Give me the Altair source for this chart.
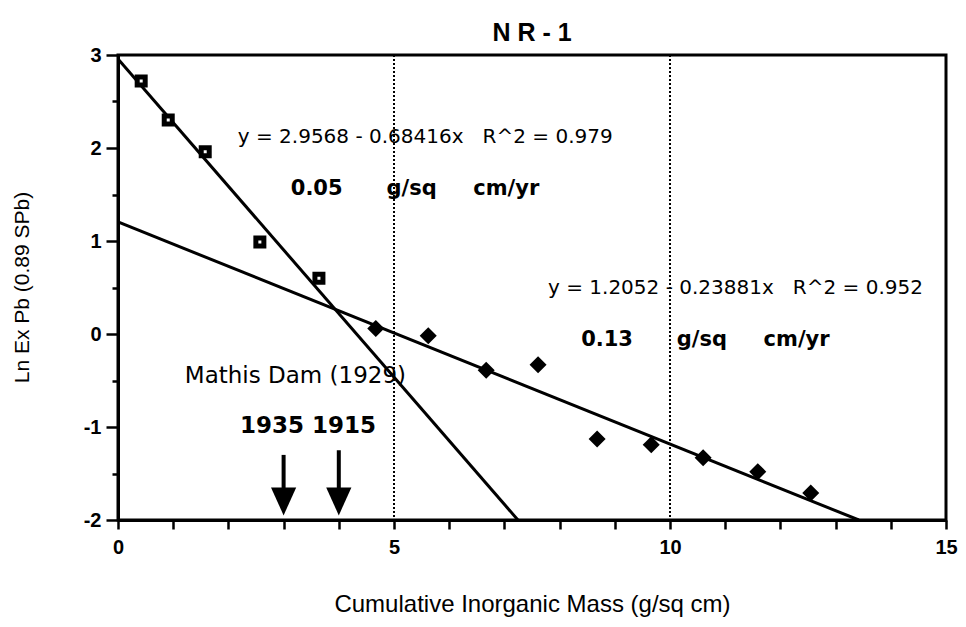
import altair as alt
import pandas as pd

# ---- data ----
sq_x = [0.42, 0.91, 1.58, 2.57, 3.64]
sq_y = [2.72, 2.30, 1.96, 0.99, 0.60]

dm_x = [4.67, 5.62, 6.67, 7.61, 8.68, 9.66, 10.60, 11.59, 12.55]
dm_y = [0.06, -0.02, -0.39, -0.33, -1.13, -1.19, -1.33, -1.48, -1.71]

# regression lines (end points from printed fits, clipped at y=-2)
fit1_x = [0.0, 7.245]
fit1_y = [2.9568, -2.0]
fit2_x = [0.0, 13.42]
fit2_y = [1.2052, -2.0]

grid_x = [5, 10]

arrow_x = [3, 4]
arrow_top = [-1.30, -1.25]
arrow_head = [-1.80, -1.80]

NB = "\u00a0"
eq_texts = ["y = 2.9568 - 0.68416x" + NB * 3 + "R^2 = 0.979",
            "y = 1.2052 - 0.23881x" + NB * 3 + "R^2 = 0.952"]
eq_x = [2.17, 7.79]
eq_y = [2.12, 0.49]

dam_text = ["Mathis Dam (1929)"]
dam_x = [1.21]
dam_y = [-0.45]

bold_texts = ["0.05" + NB * 6 + "g/sq" + NB * 5 + "cm/yr",
              "0.13" + NB * 6 + "g/sq" + NB * 5 + "cm/yr"]
bold_x = [3.13, 8.39]
bold_y = [1.56, -0.06]

year_text = ["1935 1915"]
year_x = [2.21]
year_y = [-0.99]

FONT = "Liberation Sans"
AFONT = "DejaVu Sans"

xs = alt.Scale(domain=[0, 15], nice=False, zero=False)
ys = alt.Scale(domain=[-2, 3], nice=False, zero=False)

x_axis = alt.Axis(values=list(range(0, 16)),
                  labelExpr="datum.value % 5 === 0 ? '' + datum.value : ''",
                  title="Cumulative Inorganic Mass (g/sq cm)",
                  grid=False, tickSize=9, labelPadding=8, labelFlush=False,
                  titleY=84, titleBaseline="middle", titleFontSize=24)
y_axis = alt.Axis(values=[-2, -1.5, -1, -0.5, 0, 0.5, 1, 1.5, 2, 2.5, 3],
                  labelExpr="datum.value % 1 === 0 ? '' + datum.value : ''",
                  title="Ln Ex Pb (0.89 SPb)",
                  grid=False, labelFlush=False,
                  tickSize={"condition": {"test": "datum.value % 1 === 0", "value": 12}, "value": 6},
                  labelPadding=5,
                  titleX=-86, titleY=232, titleFontSize=21)

lines_df = pd.DataFrame({
    "x": fit1_x + fit2_x,
    "y": fit1_y + fit2_y,
    "fit": ["a", "a", "b", "b"],
})
sq_df = pd.DataFrame({"x": sq_x, "y": sq_y})
dm_df = pd.DataFrame({"x": dm_x, "y": dm_y})
grid_df = pd.DataFrame({"x": grid_x})
arr_df = pd.DataFrame({"x": arrow_x, "top": arrow_top, "head": arrow_head})
eq_df = pd.DataFrame({"x": eq_x, "y": eq_y, "t": eq_texts})
dam_df = pd.DataFrame({"x": dam_x, "y": dam_y, "t": dam_text})
bold_df = pd.DataFrame({"x": bold_x, "y": bold_y, "t": bold_texts})
year_df = pd.DataFrame({"x": year_x, "y": year_y, "t": year_text})

grid = alt.Chart(grid_df).mark_rule(color="black", strokeWidth=2, strokeDash=[2, 2]).encode(
    x=alt.X("x:Q", scale=xs, axis=x_axis))

lines = alt.Chart(lines_df).mark_line(color="black", strokeWidth=3, clip=True).encode(
    x=alt.X("x:Q", scale=xs, axis=x_axis),
    y=alt.Y("y:Q", scale=ys, axis=y_axis),
    detail="fit:N")

squares = alt.Chart(sq_df).mark_point(shape="square", filled=True, fill="white",
                                      stroke="black", strokeWidth=5, size=64, opacity=1).encode(
    x=alt.X("x:Q", scale=xs), y=alt.Y("y:Q", scale=ys))

diamonds = alt.Chart(dm_df).mark_point(shape="diamond", filled=True, color="black",
                                       size=290, opacity=1).encode(
    x=alt.X("x:Q", scale=xs), y=alt.Y("y:Q", scale=ys))

shafts = alt.Chart(arr_df).mark_rule(color="black", strokeWidth=4).encode(
    x=alt.X("x:Q", scale=xs), y=alt.Y("top:Q", scale=ys), y2="head:Q")

heads = alt.Chart(arr_df).mark_point(shape="M-0.9,-1L0.9,-1L0,1Z", filled=True,
                                     color="black", size=784, opacity=1).encode(
    x=alt.X("x:Q", scale=xs), y=alt.Y("head:Q", scale=ys))

eqs = alt.Chart(eq_df).mark_text(align="left", baseline="middle", font=AFONT,
                                 fontSize=20, color="black").encode(
    x=alt.X("x:Q", scale=xs), y=alt.Y("y:Q", scale=ys), text="t:N")

dam = alt.Chart(dam_df).mark_text(align="left", baseline="middle", font=AFONT,
                                  fontSize=23, color="black").encode(
    x=alt.X("x:Q", scale=xs), y=alt.Y("y:Q", scale=ys), text="t:N")

bolds = alt.Chart(bold_df).mark_text(align="left", baseline="middle", font=AFONT,
                                     fontSize=21, fontWeight="bold", color="black").encode(
    x=alt.X("x:Q", scale=xs), y=alt.Y("y:Q", scale=ys), text="t:N")

years = alt.Chart(year_df).mark_text(align="left", baseline="middle", font=AFONT,
                                     fontSize=23, fontWeight="bold", color="black").encode(
    x=alt.X("x:Q", scale=xs), y=alt.Y("y:Q", scale=ys), text="t:N")

chart = alt.layer(grid, lines, squares, diamonds, shafts, heads, eqs, dam, bolds, years).properties(
    width=828, height=465,
    title=alt.TitleParams("N R - 1", font=FONT, fontSize=25, fontWeight="bold",
                          anchor="middle", offset=12, dy=13, color="black"),
    autosize=alt.AutoSizeParams(type="none"),
    padding={"left": 110, "top": 47, "right": 12, "bottom": 98},
).configure_axis(
    domainColor="black", domainWidth=3, tickColor="black", tickWidth=2.5,
    labelFont=FONT, labelFontSize=20, labelFontWeight="bold", labelColor="black",
    titleFont=FONT, titleFontWeight="normal", titleColor="black",
).configure_view(stroke="black", strokeWidth=3)

chart.save("out.html", embed_options={"renderer": "svg", "actions": False})
